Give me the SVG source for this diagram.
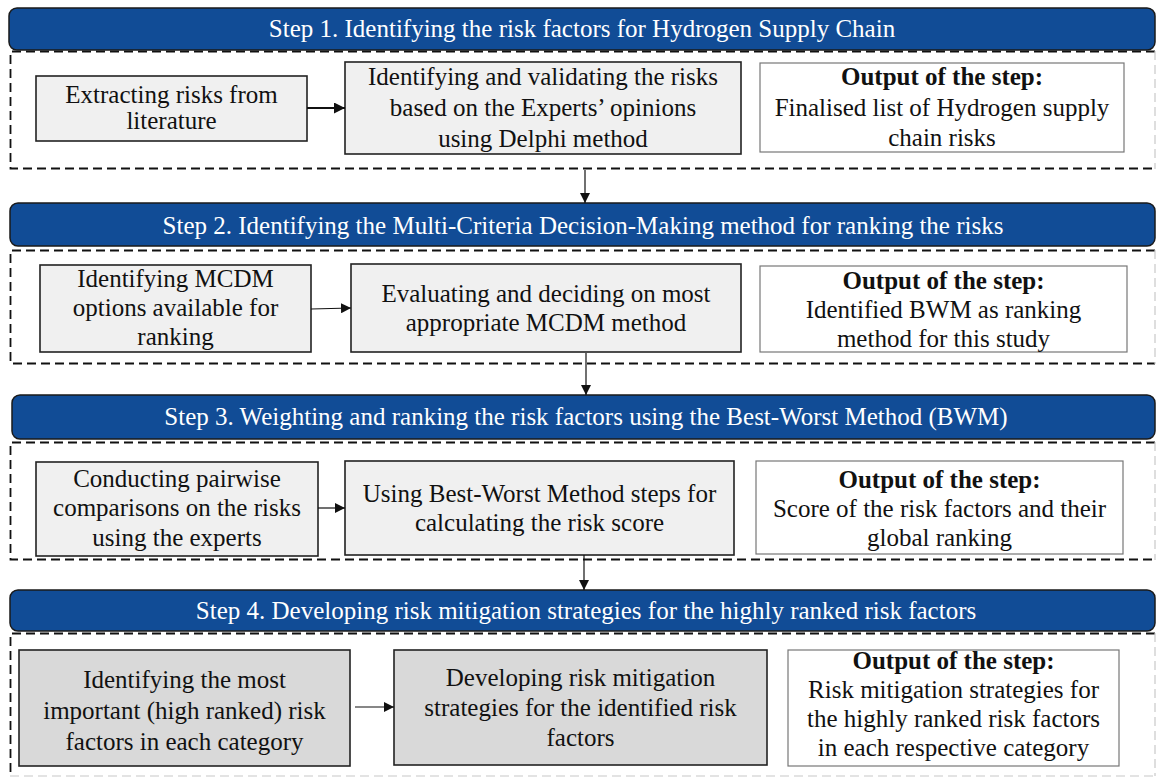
<svg xmlns="http://www.w3.org/2000/svg" width="1157" height="778" viewBox="0 0 1157 778">
  <defs>
    <marker id="arrow" viewBox="0 0 10 10" refX="10" refY="5" markerWidth="10" markerHeight="10" markerUnits="userSpaceOnUse" orient="auto">
      <path d="M0,0 L10,5 L0,10 Z" fill="#111"/>
    </marker>
    <marker id="arrowBig" viewBox="0 0 10 10" refX="10" refY="5" markerWidth="11" markerHeight="11" markerUnits="userSpaceOnUse" orient="auto">
      <path d="M0,0 L10,5 L0,10 Z" fill="#111"/>
    </marker>
    <style>
      .band { fill: #114c96; stroke: #1a1a1a; stroke-width: 1.5; }
      .bandText { fill: #ffffff; font-family: "Liberation Serif", "Times New Roman", serif; font-size: 25px; text-anchor: middle; }
      .frame { fill: none; stroke: #111; stroke-width: 1.8; stroke-dasharray: 9 5; }
      .frameEdge { fill: none; stroke: #c8c8c8; stroke-width: 1.2; stroke-dasharray: 9 5; }
      .task { fill: #f0f0f0; stroke: #222; stroke-width: 1.6; }
      .task4 { fill: #d9d9d9; stroke: #222; stroke-width: 1.6; }
      .out { fill: #ffffff; stroke: #777; stroke-width: 1.2; }
      .txt { fill: #111; font-family: "Liberation Serif", "Times New Roman", serif; font-size: 25px; text-anchor: middle; }
      .bold { font-weight: bold; }
      .link { stroke: #111; stroke-width: 1.2; fill: none; }
      .linkThick { stroke: #111; stroke-width: 2.2; fill: none; }
    </style>
  </defs>

  <rect width="1157" height="778" fill="#ffffff"/>

  <!-- Step 1 -->
  <g id="step1">
    <path class="frame" d="M1155,51.5 H10.5 V168.5 H1155"/>
    <path class="frameEdge" d="M1155,51 V169"/>
    <rect class="band" x="9" y="8" width="1146" height="42" rx="8"/>
    <text class="bandText" x="582" y="37">Step 1. Identifying the risk factors for Hydrogen Supply Chain</text>
  </g>
  <g id="s1-extract">
    <rect class="task" x="36" y="76" width="271" height="65"/>
    <text class="txt" x="171.5" y="103">Extracting risks from</text>
    <text class="txt" x="171.5" y="129">literature</text>
  </g>
  <g id="s1-validate">
    <rect class="task" x="345" y="62" width="396" height="92"/>
    <text class="txt" x="543" y="85">Identifying and validating the risks</text>
    <text class="txt" x="543" y="116">based on the Experts’ opinions</text>
    <text class="txt" x="543" y="147">using Delphi method</text>
  </g>
  <g id="s1-output">
    <rect class="out" x="760" y="63" width="364" height="89"/>
    <text class="txt bold" x="942" y="85">Output of the step:</text>
    <text class="txt" x="942" y="116">Finalised list of Hydrogen supply</text>
    <text class="txt" x="942" y="146">chain risks</text>
  </g>

  <!-- Step 2 -->
  <g id="step2">
    <path class="frame" d="M1155,250.5 H10.5 V363.5 H1155"/>
    <path class="frameEdge" d="M1155,250 V364"/>
    <rect class="band" x="10" y="203" width="1145" height="43" rx="8"/>
    <text class="bandText" x="583" y="234">Step 2. Identifying the Multi-Criteria Decision-Making method for ranking the risks</text>
  </g>
  <g id="s2-options">
    <rect class="task" x="40" y="265" width="271" height="87"/>
    <text class="txt" x="175.5" y="287">Identifying MCDM</text>
    <text class="txt" x="175.5" y="316">options available for</text>
    <text class="txt" x="175.5" y="345">ranking</text>
  </g>
  <g id="s2-evaluate">
    <rect class="task" x="351" y="264" width="390" height="88"/>
    <text class="txt" x="546" y="302">Evaluating and deciding on most</text>
    <text class="txt" x="546" y="331">appropriate MCDM method</text>
  </g>
  <g id="s2-output">
    <rect class="out" x="760" y="266" width="367" height="86"/>
    <text class="txt bold" x="943.5" y="289">Output of the step:</text>
    <text class="txt" x="943.5" y="318">Identified BWM as ranking</text>
    <text class="txt" x="943.5" y="347">method for this study</text>
  </g>

  <!-- Step 3 -->
  <g id="step3">
    <path class="frame" d="M1155,442.5 H10.5 V559.5 H1155"/>
    <path class="frameEdge" d="M1155,442 V560"/>
    <rect class="band" x="12" y="395" width="1143" height="44" rx="8"/>
    <text class="bandText" x="586" y="425">Step 3. Weighting and ranking the risk factors using the Best-Worst Method (BWM)</text>
  </g>
  <g id="s3-pairwise">
    <rect class="task" x="36" y="462" width="282" height="94"/>
    <text class="txt" x="177" y="487">Conducting pairwise</text>
    <text class="txt" x="177" y="516">comparisons on the risks</text>
    <text class="txt" x="177" y="546">using the experts</text>
  </g>
  <g id="s3-bwm">
    <rect class="task" x="345" y="461" width="389" height="94"/>
    <text class="txt" x="539.5" y="502">Using Best-Worst Method steps for</text>
    <text class="txt" x="539.5" y="531">calculating the risk score</text>
  </g>
  <g id="s3-output">
    <rect class="out" x="756" y="461" width="367" height="93"/>
    <text class="txt bold" x="939.5" y="488">Output of the step:</text>
    <text class="txt" x="939.5" y="517">Score of the risk factors and their</text>
    <text class="txt" x="939.5" y="546">global ranking</text>
  </g>

  <!-- Step 4 -->
  <g id="step4">
    <path class="frame" d="M1155,633.5 H10.5 V777"/>
    <path class="frameEdge" d="M10,776 H1155 M1155,633 V776"/>
    <rect class="band" x="10" y="590" width="1145" height="41" rx="8"/>
    <text class="bandText" x="586" y="619">Step 4. Developing risk mitigation strategies for the highly ranked risk factors</text>
  </g>
  <g id="s4-identify">
    <rect class="task4" x="19" y="650" width="331" height="116"/>
    <text class="txt" x="184.5" y="688">Identifying the most</text>
    <text class="txt" x="184.5" y="719">important (high ranked) risk</text>
    <text class="txt" x="184.5" y="750">factors in each category</text>
  </g>
  <g id="s4-develop">
    <rect class="task4" x="394" y="650" width="373" height="115"/>
    <text class="txt" x="580.5" y="686">Developing risk mitigation</text>
    <text class="txt" x="580.5" y="716">strategies for the identified risk</text>
    <text class="txt" x="580.5" y="746">factors</text>
  </g>
  <g id="s4-output">
    <rect class="out" x="788" y="650" width="331" height="116"/>
    <text class="txt bold" x="953.5" y="669">Output of the step:</text>
    <text class="txt" x="953.5" y="698">Risk mitigation strategies for</text>
    <text class="txt" x="953.5" y="727">the highly ranked risk factors</text>
    <text class="txt" x="953.5" y="756">in each respective category</text>
  </g>

  <!-- Connectors -->
  <g id="connectors">
    <line class="linkThick" x1="307" y1="108" x2="345" y2="108" marker-end="url(#arrowBig)"/>
    <line class="link" x1="311" y1="309" x2="351" y2="308" marker-end="url(#arrow)"/>
    <line class="link" x1="318" y1="508" x2="345" y2="508" marker-end="url(#arrow)"/>
    <line class="link" x1="355" y1="707" x2="394" y2="707" marker-end="url(#arrow)"/>
    <line class="link" x1="585" y1="170" x2="585" y2="203" marker-end="url(#arrow)"/>
    <line class="link" x1="586" y1="353" x2="586" y2="395" marker-end="url(#arrow)"/>
    <line class="link" x1="584" y1="555" x2="584" y2="590" marker-end="url(#arrow)"/>
  </g>
</svg>
